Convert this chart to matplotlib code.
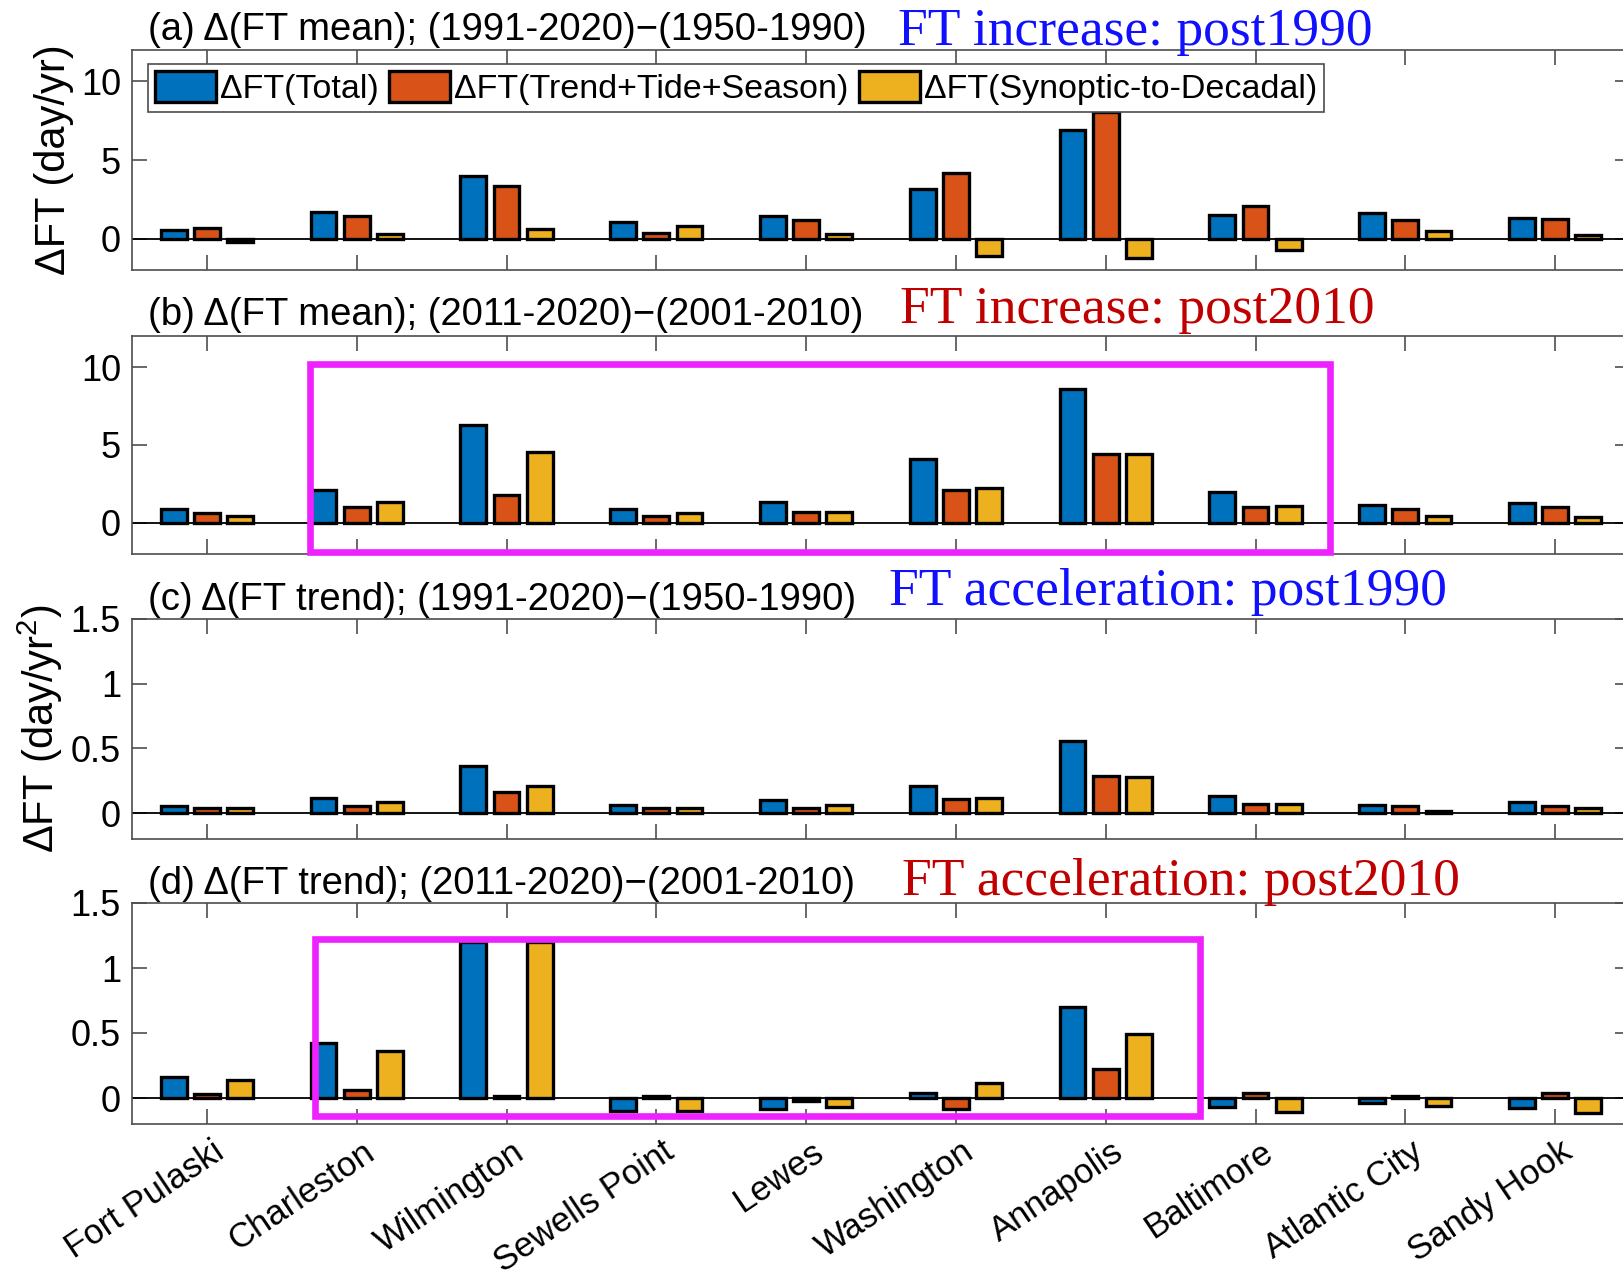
import numpy as np
import matplotlib.pyplot as plt
import matplotlib.transforms as mtransforms
from matplotlib.patches import Rectangle

plt.rcParams['font.family'] = ['Liberation Sans', 'DejaVu Sans']
plt.rcParams['mathtext.default'] = 'regular'

# ---- data ----
stations = ['Fort Pulaski', 'Charleston', 'Wilmington', 'Sewells Point', 'Lewes',
            'Washington', 'Annapolis', 'Baltimore', 'Atlantic City', 'Sandy Hook']
series_names = ['ΔFT(Total)', 'ΔFT(Trend+Tide+Season)', 'ΔFT(Synoptic-to-Decadal)']
colors = ['#0072BD', '#D95319', '#EDB120']

# (a) mean, 1991-2020 minus 1950-1990
a_total = [0.53, 1.69, 4.0, 1.07, 1.43, 3.18, 6.9, 1.49, 1.6, 1.32]
a_trend = [0.7, 1.43, 3.35, 0.36, 1.17, 4.17, 8.05, 2.09, 1.17, 1.26]
a_synop = [-0.25, 0.28, 0.62, 0.79, 0.28, -1.13, -1.22, -0.7, 0.47, 0.21]

# (b) mean, 2011-2020 minus 2001-2010
b_total = [0.89, 2.11, 6.27, 0.89, 1.35, 4.13, 8.6, 1.98, 1.14, 1.25]
b_trend = [0.63, 0.99, 1.77, 0.46, 0.72, 2.11, 4.41, 0.99, 0.89, 0.99]
b_synop = [0.46, 1.35, 4.56, 0.63, 0.72, 2.22, 4.41, 1.08, 0.46, 0.38]

# (c) trend, 1991-2020 minus 1950-1990
c_total = [0.052, 0.116, 0.367, 0.064, 0.098, 0.21, 0.555, 0.129, 0.064, 0.085]
c_trend = [0.036, 0.052, 0.16, 0.036, 0.041, 0.108, 0.284, 0.072, 0.052, 0.052]
c_synop = [0.036, 0.085, 0.21, 0.041, 0.064, 0.116, 0.279, 0.072, 0.02, 0.041]

# (d) trend, 2011-2020 minus 2001-2010
d_total = [0.16, 0.426, 1.2, -0.098, -0.085, 0.039, 0.698, -0.073, -0.042, -0.08]
d_trend = [0.031, 0.064, 0.018, 0.018, -0.026, -0.085, 0.225, 0.039, 0.018, 0.039]
d_synop = [0.14, 0.36, 1.2, -0.1, -0.073, 0.116, 0.49, -0.104, -0.062, -0.116]

titles = ['(a) Δ(FT mean); (1991-2020)\u2212(1950-1990)',
          '(b) Δ(FT mean); (2011-2020)\u2212(2001-2010)',
          '(c) Δ(FT trend); (1991-2020)\u2212(1950-1990)',
          '(d) Δ(FT trend); (2011-2020)\u2212(2001-2010)']
notes = ['FT increase: post1990', 'FT increase: post2010',
         'FT acceleration: post1990', 'FT acceleration: post2010']
note_colors = ['#1010FF', '#C00000', '#1010FF', '#C00000']

panels = [(a_total, a_trend, a_synop), (b_total, b_trend, b_synop),
          (c_total, c_trend, c_synop), (d_total, d_trend, d_synop)]
ylims = [(-2, 12), (-2, 12), (-0.2, 1.5), (-0.2, 1.5)]
yticks = [[0, 5, 10], [0, 5, 10], [0, 0.5, 1, 1.5], [0, 0.5, 1, 1.5]]

# highlight boxes (data coords: x0, x1, y0, y1), None = no box
boxes = [None, (1.69, 8.5, -1.9, 10.2), None, (1.72, 7.63, -0.137, 1.223)]

# ---- layout (pixels of the 1623x1277 canvas) ----
W, H = 1623, 1277
ax_rects = [(132, 50, 270), (132, 336, 554), (132, 619, 839), (132, 903, 1124)]
right_px = 1630
title_off = [2, 3, 1, 1]
note_x = [898, 900, 889, 902]
note_base = [45, 323, 605, 895]

fig = plt.figure(figsize=(W / 100, H / 100), dpi=100)

x = np.arange(1, len(stations) + 1)
offsets = [-0.222, 0.0, 0.222]
bw = 0.172

axes = []
for i, (l, t, b) in enumerate(ax_rects):
    ax = fig.add_axes([l / W, 1 - b / H, (right_px - l) / W, (b - t) / H])
    axes.append(ax)
    for k in range(3):
        ax.bar(x + offsets[k], panels[i][k], width=bw, color=colors[k],
               edgecolor='black', linewidth=2.4, label=series_names[k], zorder=3)
    ax.axhline(0, color='black', lw=1.3, zorder=2)
    ax.set_xlim(0.5, 10.5)
    ax.set_ylim(*ylims[i])
    ax.set_yticks(yticks[i])
    ax.set_yticklabels(['%g' % v for v in yticks[i]])
    ax.set_xticks(x)
    ax.tick_params(direction='in', length=11, width=1.1, color='0.25',
                   top=True, right=True, labelsize=26, pad=8)
    for s in ax.spines.values():
        s.set_color('0.3')
        s.set_linewidth(1.2)
    if i < 3:
        ax.set_xticklabels([])
    # panel title (left) and colored note
    tr = ax.transAxes + mtransforms.ScaledTranslation(0, title_off[i] / 100, fig.dpi_scale_trans)
    ax.text(16 / (right_px - l), 1, titles[i], transform=tr,
            ha='left', va='bottom', fontsize=27.5, color='black')
    fig.text(note_x[i] / W, 1 - note_base[i] / H, notes[i], ha='left', va='baseline',
             fontsize=38.5, color=note_colors[i], family='Liberation Serif')
    if boxes[i] is not None:
        x0, x1, y0, y1 = boxes[i]
        ax.add_patch(Rectangle((x0, y0), x1 - x0, y1 - y0, fill=False,
                               edgecolor='#EE22FF', lw=4.8, zorder=5, clip_on=False))

# x tick labels on the bottom panel
offset = mtransforms.ScaledTranslation(0.05, 0.0, fig.dpi_scale_trans)
axes[3].set_xticklabels(stations, rotation=34, ha='right', va='top',
                        rotation_mode='anchor', fontsize=25)
for lab in axes[3].get_xticklabels():
    lab.set_transform(lab.get_transform() + offset)

axes[0].set_ylabel('ΔFT (day/yr)', fontsize=30)
axes[2].set_ylabel('ΔFT (day/yr$^{2}$)', fontsize=30)
axes[0].yaxis.set_label_coords(-0.039, 0.5)
axes[2].yaxis.set_label_coords(-0.045, 0.5)

leg = axes[0].legend(loc='upper left', bbox_to_anchor=(0.0107, 0.935), ncol=3,
                     fontsize=24.5, frameon=True, fancybox=False, framealpha=1,
                     edgecolor='0.3', borderaxespad=0, borderpad=0.2,
                     handlelength=1.8, handleheight=1.0, handletextpad=0.12,
                     columnspacing=0.3)
leg.get_frame().set_linewidth(1.2)

fig.savefig('out.png', dpi=100)
